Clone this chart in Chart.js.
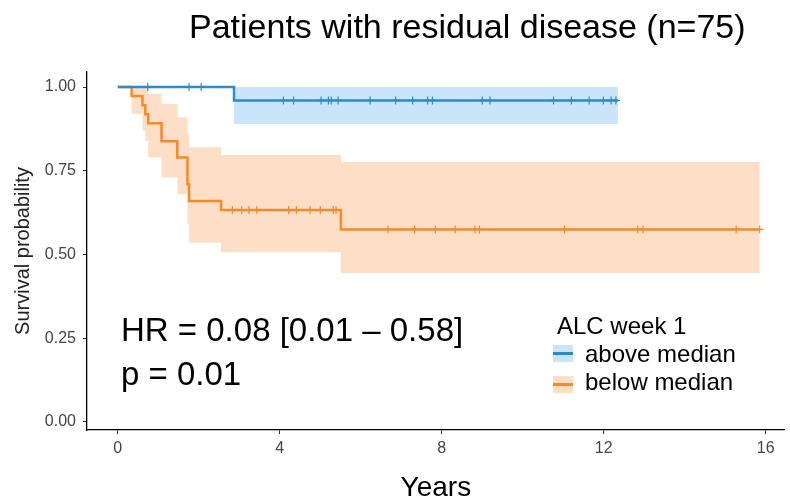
<!DOCTYPE html>
<html>
<head>
<meta charset="utf-8">
<script src="https://cdn.jsdelivr.net/npm/chart.js@4.4.1/dist/chart.umd.min.js"></script>
<style>
  body { margin: 0; background: #fff; overflow: hidden; }
  #wrap { position: relative; width: 790px; height: 502px; font-family: "Liberation Sans", Arial, sans-serif; }
  #wrap canvas { position: absolute; left: 0; top: 0; }
  .txt { position: absolute; white-space: nowrap; color: #000; line-height: 1; }
  .key { position: absolute; width: 20px; height: 17px; }
  .key span { position: absolute; left: 0; right: 0; top: 7px; height: 2.5px; }
</style>
</head>
<body>
<div id="wrap">
  <canvas id="km" width="790" height="502"></canvas>
  <div class="txt" style="left:189px; top:9px; font-size:34px;">Patients with residual disease (n=75)</div>
  <div class="txt" style="left:121px; top:313px; font-size:33px;">HR = 0.08 [0.01 – 0.58]</div>
  <div class="txt" style="left:121px; top:357px; font-size:33px;">p = 0.01</div>
  <div class="txt" style="left:557px; top:314px; font-size:24px;">ALC week 1</div>
  <div class="key" style="left:553px; top:345px; background:rgba(45,150,230,0.25);"><span style="background:#2a8bd0;"></span></div>
  <div class="txt" style="left:585px; top:342px; font-size:24px;">above median</div>
  <div class="key" style="left:553px; top:376px; background:rgba(250,150,70,0.3);"><span style="background:#f58a2a;"></span></div>
  <div class="txt" style="left:585px; top:370px; font-size:24px;">below median</div>
</div>
<script>
// ------------------------- DATA ----------------------------------------------

// above median group: event times (years), survival and CI after each step
var aboveTime  = [0, 2.87, 12.35];
var aboveSurv  = [1.00, 0.96, 0.96];
var aboveLower = [1.00, 0.89, 0.89];
var aboveUpper = [1.00, 1.00, 1.00];
var aboveCensor = [0.74, 1.76, 2.06, 4.09, 4.34, 5.02, 5.2, 5.27, 5.44, 6.23, 6.86, 7.28, 7.65,
                   7.77, 9.0, 9.19, 10.76, 11.2, 11.64, 11.99, 12.18, 12.3];

// below median group
var belowTime  = [0, 0.34, 0.61, 0.68, 0.75, 1.08, 1.47, 1.72, 1.76, 2.55, 5.51, 15.85];
var belowSurv  = [1.00, 0.973, 0.946, 0.919, 0.892, 0.838, 0.79, 0.71, 0.66, 0.633, 0.575, 0.575];
var belowLower = [1.00, 0.92, 0.87, 0.84, 0.79, 0.73, 0.68, 0.59, 0.535, 0.507, 0.445, 0.445];
var belowUpper = [1.00, 1.00, 1.00, 1.00, 0.98, 0.95, 0.91, 0.86, 0.82, 0.797, 0.776, 0.776];
var belowCensor = [2.83, 3.06, 3.24, 3.43, 4.22, 4.41, 4.75, 5.0, 5.32, 5.39, 6.67, 7.33, 7.84,
                   8.33, 8.82, 8.93, 11.03, 12.84, 12.97, 15.27, 15.85];

var xTicks = [0, 4, 8, 12, 16];
var yTicks = [0, 0.25, 0.5, 0.75, 1];

// ------------------------- HELPERS -------------------------------------------

var blueLine = "#2a8bd0";
var blueBand = "rgba(45, 150, 230, 0.25)";
var orangeLine = "#f58a2a";
var orangeBand = "rgba(250, 150, 70, 0.3)";

// pairs time and value arrays into {x, y} points
function points(times, vals) {
  return times.map(function(t, i) { return {x: t, y: vals[i]}; });
}

// survival value of a step curve at time t
function survAt(times, surv, t) {
  var s = surv[0];
  for (var i = 0; i < times.length; i++) {
    if (times[i] <= t) s = surv[i];
  }
  return s;
}

function censorPoints(censor, times, surv) {
  return censor.map(function(t) { return {x: t, y: survAt(times, surv, t)}; });
}

function band(times, vals, color, fill, order) {
  return {
    data: points(times, vals), stepped: true, borderWidth: 0, pointRadius: 0,
    backgroundColor: color, fill: fill, order: order
  };
}

// ------------------------- CHART ---------------------------------------------

var datasets = [
  band(belowTime, belowUpper, orangeBand, '+1', 6),
  band(belowTime, belowLower, orangeBand, false, 6),
  band(aboveTime, aboveUpper, blueBand, '+1', 5),
  band(aboveTime, aboveLower, blueBand, false, 5),
  {
    label: "below median", data: points(belowTime, belowSurv), stepped: true,
    borderColor: orangeLine, borderWidth: 2.5, pointRadius: 0, fill: false, order: 3
  },
  {
    data: censorPoints(belowCensor, belowTime, belowSurv), showLine: false,
    pointStyle: 'cross', pointRadius: 4, pointBorderWidth: 1.2,
    borderColor: orangeLine, backgroundColor: orangeLine, order: 2
  },
  {
    label: "above median", data: points(aboveTime, aboveSurv), stepped: true,
    borderColor: blueLine, borderWidth: 2.5, pointRadius: 0, fill: false, order: 1
  },
  {
    data: censorPoints(aboveCensor, aboveTime, aboveSurv), showLine: false,
    pointStyle: 'cross', pointRadius: 4, pointBorderWidth: 1.2,
    borderColor: blueLine, backgroundColor: blueLine, order: 0
  }
];

var tickFont = {family: "Liberation Sans", size: 16};

new Chart(document.getElementById('km'), {
  type: 'line',
  data: {datasets: datasets},
  options: {
    responsive: false,
    animation: false,
    layout: {padding: {top: 72, right: 0, left: 0, bottom: 0}},
    plugins: {legend: {display: false}, tooltip: {enabled: false}, title: {display: false}},
    scales: {
      x: {
        type: 'linear', min: -0.76, max: 16.47,
        afterBuildTicks: function(scale) { scale.ticks = xTicks.map(function(v) { return {value: v}; }); },
        afterFit: function(scale) { scale.height = 72; },
        ticks: {font: tickFont, color: '#444', padding: 5},
        grid: {display: true, drawOnChartArea: false, drawTicks: true, tickLength: 4, color: '#333'},
        border: {display: true, color: '#000', width: 1.3},
        title: {display: true, text: 'Years', font: {family: "Liberation Sans", size: 28, lineHeight: 1.2},
                color: '#000', padding: {top: 0, bottom: -3}}
      },
      y: {
        type: 'linear', min: -0.024, max: 1.045,
        afterBuildTicks: function(scale) { scale.ticks = yTicks.map(function(v) { return {value: v}; }); },
        afterFit: function(scale) { scale.width = 87; },
        ticks: {font: tickFont, color: '#444', padding: 7,
                callback: function(v) { return v.toFixed(2); }},
        grid: {display: true, drawOnChartArea: false, drawTicks: true, tickLength: 4, color: '#333'},
        border: {display: true, color: '#000', width: 1.3},
        title: {display: true, text: 'Survival probability', font: {family: "Liberation Sans", size: 20, lineHeight: 1.2},
                color: '#222', padding: {top: 11, bottom: 0}}
      }
    }
  }
});
</script>
</body>
</html>
